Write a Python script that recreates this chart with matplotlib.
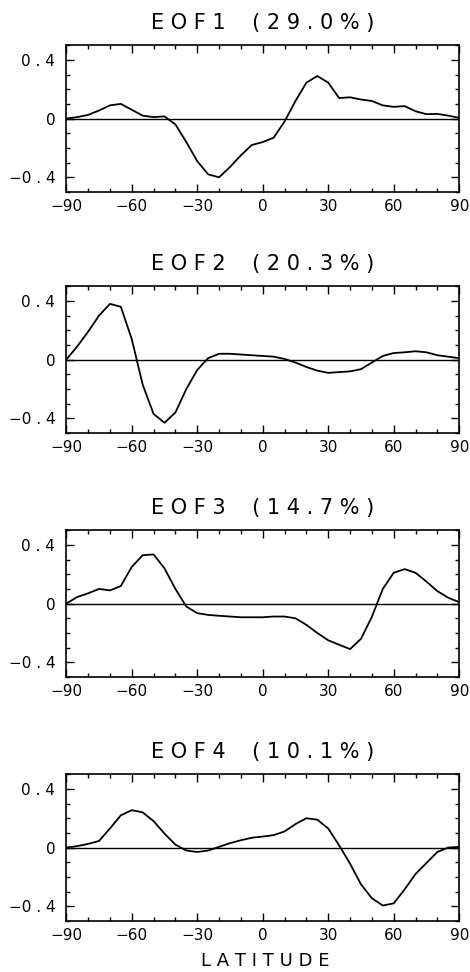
import matplotlib.pyplot as plt
from matplotlib.ticker import MultipleLocator

# latitude grid (every 5 degrees)
lat = list(range(-90, 91, 5))

eof1 = [0.0, 0.01, 0.025, 0.055, 0.09, 0.1, 0.06, 0.02, 0.01, 0.015,
        -0.04, -0.16, -0.29, -0.38, -0.40, -0.33, -0.25, -0.18, -0.16,
        -0.13, -0.02, 0.12, 0.245, 0.29, 0.245, 0.14, 0.145, 0.13, 0.12,
        0.09, 0.08, 0.085, 0.05, 0.03, 0.032, 0.02, 0.005]

eof2 = [0.0, 0.09, 0.19, 0.30, 0.38, 0.36, 0.14, -0.17, -0.37, -0.43,
        -0.36, -0.20, -0.07, 0.01, 0.04, 0.04, 0.035, 0.03, 0.025,
        0.02, 0.005, -0.02, -0.05, -0.075, -0.09, -0.085, -0.08, -0.065,
        -0.02, 0.025, 0.045, 0.05, 0.057, 0.05, 0.03, 0.02, 0.01]

eof3 = [0.0, 0.045, 0.07, 0.10, 0.09, 0.12, 0.25, 0.33, 0.335, 0.24,
        0.10, -0.02, -0.065, -0.077, -0.083, -0.088, -0.093, -0.093,
        -0.093, -0.088, -0.088, -0.10, -0.145, -0.20, -0.25, -0.28,
        -0.31, -0.24, -0.09, 0.10, 0.21, 0.235, 0.21, 0.15, 0.085, 0.04, 0.01]

eof4 = [0.0, 0.01, 0.025, 0.045, 0.13, 0.22, 0.255, 0.24, 0.18, 0.095,
        0.02, -0.02, -0.03, -0.02, 0.005, 0.03, 0.05, 0.067, 0.075,
        0.085, 0.11, 0.16, 0.2, 0.19, 0.13, 0.015, -0.11, -0.25, -0.345,
        -0.395, -0.38, -0.285, -0.18, -0.105, -0.03, 0.0, 0.005]

titles = ['E O F 1    ( 2 9 . 0 % )', 'E O F 2    ( 2 0 . 3 % )',
          'E O F 3    ( 1 4 . 7 % )', 'E O F 4    ( 1 0 . 1 % )']
series = [eof1, eof2, eof3, eof4]

xticks = [-90, -60, -30, 0, 30, 60, 90]
xticklabels = ['\u221290', '\u221260', '\u221230', '0', '30', '60', '90']
yticks = [-0.4, 0, 0.4]
yticklabels = ['\u22120 . 4', '0', '0 . 4']

fig = plt.figure(figsize=(4.70, 9.72), dpi=100)
bottoms = [0.8025, 0.5545, 0.3035, 0.0525]

for i in range(4):
    ax = fig.add_axes([0.141, bottoms[i], 0.836, 0.151])
    ax.plot(lat, series[i], color='black', linewidth=1.3)
    ax.axhline(0, color='black', linewidth=1.0)
    ax.set_xlim(-90, 90)
    ax.set_ylim(-0.5, 0.5)
    ax.set_xticks(xticks)
    ax.set_xticklabels(xticklabels)
    ax.set_yticks(yticks)
    ax.set_yticklabels(yticklabels)
    ax.xaxis.set_minor_locator(MultipleLocator(10))
    ax.yaxis.set_minor_locator(MultipleLocator(0.1))
    ax.tick_params(which='both', direction='in', top=True, right=True,
                   width=1.0, labelsize=11)
    ax.tick_params(which='major', length=6)
    ax.tick_params(which='minor', length=3)
    ax.tick_params(axis='y', pad=8)
    ax.tick_params(axis='x', pad=5)
    for sp in ax.spines.values():
        sp.set_linewidth(1.2)
    ax.set_title(titles[i], fontsize=15, pad=12)

# axis label under the last panel
fig.text(0.565, 0.006, 'L A T I T U D E', fontsize=13,
         ha='center', va='baseline')

fig.savefig('out.png', dpi=100)
